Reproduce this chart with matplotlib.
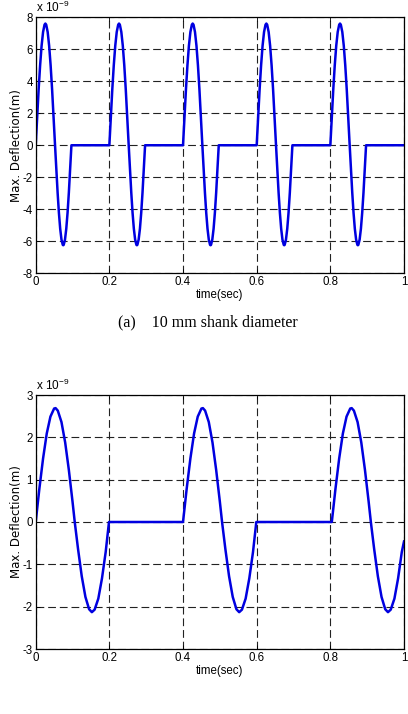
import matplotlib
matplotlib.use("Agg")
import matplotlib.pyplot as plt
import numpy as np

# ---------------- data (deflection in units of 1e-9 m) ----------------
# (a) 10 mm shank: one pulse shape (time offset, value), repeated at pulse starts
top_pulse_t = [0, 0.004, 0.008, 0.012, 0.016, 0.020, 0.024, 0.02625, 0.0285, 0.0325,
               0.0365, 0.0405, 0.0445, 0.0485, 0.0525,
               0.056, 0.0595, 0.063, 0.0665, 0.070, 0.0735, 0.07475, 0.076, 0.0795,
               0.083, 0.0865, 0.090, 0.0935, 0.097]
top_pulse_v = [0, 1.81, 3.51, 5.01, 6.23, 7.09, 7.55, 7.62, 7.55, 7.09,
               6.23, 5.01, 3.51, 1.81, 0,
               -1.53, -2.97, -4.23, -5.23, -5.91, -6.24, -6.26, -6.24, -5.91,
               -5.23, -4.23, -2.97, -1.53, 0]
top_starts = [0.0, 0.2, 0.4, 0.6, 0.8]
top_end = (1.0, 0.0)

# (b) bottom chart: one pulse shape, repeated; the record stops mid-pulse at t = 1
bot_pulse_t = [0, 0.01, 0.02, 0.03, 0.04, 0.05, 0.054, 0.06, 0.07, 0.08, 0.09, 0.10, 0.106,
               0.115, 0.125, 0.135, 0.145, 0.1525, 0.16, 0.17, 0.18, 0.19, 0.199]
bot_pulse_v = [0, 0.79, 1.50, 2.09, 2.49, 2.68, 2.69, 2.63, 2.36, 1.88, 1.23, 0.48, 0,
               -0.64, -1.28, -1.77, -2.06, -2.13, -2.07, -1.81, -1.33, -0.71, 0]
bot_starts = [0.0, 0.4, 0.804]
bot_end = (1.0, -0.46)

x_ticks = [0, 0.2, 0.4, 0.6, 0.8, 1]
x_ticklabels = ["0", "0.2", "0.4", "0.6", "0.8", "1"]
top_yticks = [-8, -6, -4, -2, 0, 2, 4, 6, 8]
bot_yticks = [-3, -2, -1, 0, 1, 2, 3]

caption_a = "(a)    10 mm shank diameter"
xlabel = "time(sec)"
ylabel = "Max. Deflection(m)"


def build(pulse_t, pulse_v, starts, end):
    t, v = [], []
    for s in starts:
        for pt, pv in zip(pulse_t, pulse_v):
            if s + pt < end[0] - 0.004:
                t.append(s + pt)
                v.append(pv)
    t.append(end[0])
    v.append(end[1])
    return t, v


plt.rcParams['font.family'] = ['Liberation Sans', 'DejaVu Sans']

fig = plt.figure(figsize=(4.08, 7.14), dpi=100)
W, H = 408, 714


def make_axes(top_px, bottom_px):
    left, right = 35.7, 404
    return fig.add_axes([left / W, (H - bottom_px) / H, (right - left) / W, (bottom_px - top_px) / H])


def style(ax, yticks, ylim):
    ax.set_xlim(0, 1)
    ax.set_ylim(*ylim)
    ax.set_xticks(x_ticks)
    ax.set_xticklabels(x_ticklabels)
    ax.set_yticks(yticks)
    ax.set_yticklabels([str(y) for y in yticks])
    ax.tick_params(direction='in', top=True, right=True, length=3, width=0.6,
                   labelsize=8.3, pad=2, colors='black')
    ax.grid(True, color='#222222', linestyle=(0, (7, 3.5)), linewidth=0.8)
    for sp in ax.spines.values():
        sp.set_linewidth(0.9)
        sp.set_color('black')
    ax.set_xlabel(xlabel, fontsize=8.3, labelpad=1)
    ax.set_ylabel(ylabel, fontsize=8.5, family='DejaVu Sans', va='center')
    ax.yaxis.set_label_coords((16.5 - 35.7) / 368.3, 0.5)
    ax.text(0.0, 1.008, r"x 10$^{\mathregular{-9}}$", transform=ax.transAxes,
            fontsize=8.5, ha='left', va='bottom')


ax1 = make_axes(17.5, 273)
t1, v1 = build(top_pulse_t, top_pulse_v, top_starts, top_end)
ax1.plot(t1, v1, color='#0000e0', linewidth=1.8, solid_joinstyle='round')
style(ax1, top_yticks, (-8, 8))

ax2 = make_axes(395, 649)
t2, v2 = build(bot_pulse_t, bot_pulse_v, bot_starts, bot_end)
ax2.plot(t2, v2, color='#0000e0', linewidth=1.8, solid_joinstyle='round')
style(ax2, bot_yticks, (-3, 3))

fig.text(118 / W, 1 - 322 / H, caption_a, family='Liberation Serif', fontsize=11.5,
         ha='left', va='center')

fig.savefig("out.png", dpi=100)
